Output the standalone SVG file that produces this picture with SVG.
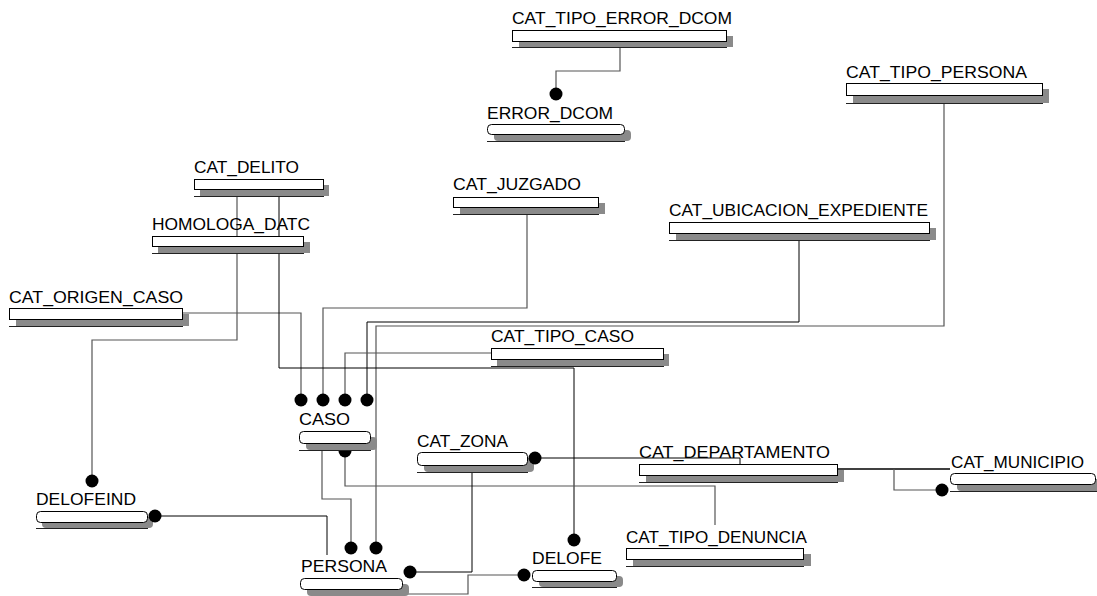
<svg xmlns="http://www.w3.org/2000/svg" width="1097" height="596" viewBox="0 0 1097 596">
<style>
text{font-family:"Liberation Sans",Arial,sans-serif;font-size:17px;fill:#000}
.box{fill:#fff;stroke:#000;stroke-width:1}
.sh{fill:#8a8a8a}
.bl{stroke:#222;stroke-width:1}
.k{fill:none;stroke:#000;stroke-width:1}
.g{fill:none;stroke:#555;stroke-width:1.2}
.dot{fill:#000}
</style>
<rect width="1097" height="596" fill="#fff"/>
<g id="connectors">
<polyline class="g" points="620,47 620,71 556,71 556,94"/>
<polyline class="g" points="944,103 944,326 376,326 376,548"/>
<polyline class="k" points="799,240 799,322 367,322 367,400"/>
<polyline class="g" points="527,214 527,308 323,308 323,400"/>
<polyline class="g" points="491,353 345,353 345,400"/>
<polyline class="g" points="182,313 301,313 301,400"/>
<polyline class="g" points="237,196 237,340 92,340 92,481"/>
<polyline class="k" points="279,196 279,368 574,368 574,540"/>
<polyline class="g" points="322,450 322,499 351,499 351,548"/>
<polyline class="g" points="715,525 715,486 345,486 345,451"/>
<polyline class="k" points="155,516 327,516 327,555"/>
<polyline class="k" points="472,472 472,572 410,572"/>
<polyline class="g" points="403,594 468,594 468,575 524,575"/>
<polyline class="k" points="534,458 740,458 740,464"/>
<polyline class="k" points="837,469 950,469" style="stroke-width:1.5"/>
<polyline class="g" points="894,469 894,490 942,490"/>
<circle class="dot" cx="345" cy="451" r="6.5"/>
</g>
<g id="CAT_TIPO_ERROR_DCOM"><rect class="sh" x="519" y="36" width="214" height="11"/><rect class="box" x="512.5" y="30.5" width="214" height="11"/><line class="bl" x1="512" y1="47.5" x2="727" y2="47.5"/><text x="512" y="24" textLength="220" lengthAdjust="spacingAndGlyphs">CAT_TIPO_ERROR_DCOM</text></g>
<g id="ERROR_DCOM"><rect class="sh" x="494" y="130" width="137" height="11" rx="4"/><rect class="box" x="487.5" y="124.5" width="137" height="10" rx="4"/><line class="bl" x1="487" y1="141.5" x2="625" y2="141.5"/><text x="487" y="119" textLength="126" lengthAdjust="spacingAndGlyphs">ERROR_DCOM</text></g>
<g id="CAT_TIPO_PERSONA"><rect class="sh" x="853" y="89" width="196" height="14"/><rect class="box" x="846.5" y="83.5" width="196" height="12"/><line class="bl" x1="846" y1="103.5" x2="1043" y2="103.5"/><text x="846" y="78" textLength="181" lengthAdjust="spacingAndGlyphs">CAT_TIPO_PERSONA</text></g>
<g id="CAT_DELITO"><rect class="sh" x="200" y="185" width="129" height="11"/><rect class="box" x="194.5" y="179.5" width="129" height="10"/><line class="bl" x1="194" y1="196.5" x2="324" y2="196.5"/><text x="194" y="173" textLength="105" lengthAdjust="spacingAndGlyphs">CAT_DELITO</text></g>
<g id="HOMOLOGA_DATC"><rect class="sh" x="158" y="242" width="152" height="11"/><rect class="box" x="152.5" y="236.5" width="151" height="10"/><line class="bl" x1="152" y1="253.5" x2="304" y2="253.5"/><text x="152" y="230" textLength="158" lengthAdjust="spacingAndGlyphs">HOMOLOGA_DATC</text></g>
<g id="CAT_JUZGADO"><rect class="sh" x="460" y="203" width="145" height="11"/><rect class="box" x="453.5" y="197.5" width="145" height="10"/><line class="bl" x1="453" y1="214.5" x2="599" y2="214.5"/><text x="453" y="190" textLength="128" lengthAdjust="spacingAndGlyphs">CAT_JUZGADO</text></g>
<g id="CAT_UBICACION_EXPEDIENTE"><rect class="sh" x="676" y="228" width="260" height="12"/><rect class="box" x="669.5" y="222.5" width="260" height="11"/><line class="bl" x1="669" y1="240.5" x2="930" y2="240.5"/><text x="669" y="216" textLength="259" lengthAdjust="spacingAndGlyphs">CAT_UBICACION_EXPEDIENTE</text></g>
<g id="CAT_ORIGEN_CASO"><rect class="sh" x="16" y="314" width="173" height="12"/><rect class="box" x="9.5" y="308.5" width="173" height="11"/><line class="bl" x1="9" y1="326.5" x2="183" y2="326.5"/><text x="9" y="303" textLength="174" lengthAdjust="spacingAndGlyphs">CAT_ORIGEN_CASO</text></g>
<g id="CAT_TIPO_CASO"><rect class="sh" x="497" y="354" width="172" height="12"/><rect class="box" x="491.5" y="348.5" width="172" height="11"/><line class="bl" x1="491" y1="366.5" x2="664" y2="366.5"/><text x="491" y="342" textLength="143" lengthAdjust="spacingAndGlyphs">CAT_TIPO_CASO</text></g>
<g id="CASO"><rect class="sh" x="306" y="437" width="71" height="13" rx="4"/><rect class="box" x="299.5" y="431.5" width="71" height="12" rx="4"/><line class="bl" x1="299" y1="450.5" x2="371" y2="450.5"/><text x="299" y="425" textLength="51" lengthAdjust="spacingAndGlyphs">CASO</text></g>
<g id="CAT_ZONA"><rect class="sh" x="424" y="458" width="110" height="14" rx="4"/><rect class="box" x="417.5" y="452.5" width="110" height="13" rx="4"/><line class="bl" x1="417" y1="472.5" x2="528" y2="472.5"/><text x="417" y="447" textLength="91" lengthAdjust="spacingAndGlyphs">CAT_ZONA</text></g>
<g id="CAT_DEPARTAMENTO"><rect class="sh" x="646" y="470" width="198" height="12"/><rect class="box" x="639.5" y="464.5" width="198" height="11"/><line class="bl" x1="639" y1="482.5" x2="838" y2="482.5"/><text x="639" y="458" textLength="191" lengthAdjust="spacingAndGlyphs">CAT_DEPARTAMENTO</text></g>
<g id="CAT_MUNICIPIO"><rect class="sh" x="957" y="479" width="145" height="12" rx="4"/><rect class="box" x="950.5" y="473.5" width="145" height="11" rx="4"/><line class="bl" x1="950" y1="491.5" x2="1097" y2="491.5"/><text x="951" y="468" textLength="133" lengthAdjust="spacingAndGlyphs">CAT_MUNICIPIO</text></g>
<g id="DELOFEIND"><rect class="sh" x="42" y="517" width="111" height="11" rx="4"/><rect class="box" x="36.5" y="511.5" width="111" height="11" rx="4"/><line class="bl" x1="36" y1="528.5" x2="148" y2="528.5"/><text x="36" y="505" textLength="100" lengthAdjust="spacingAndGlyphs">DELOFEIND</text></g>
<g id="CAT_TIPO_DENUNCIA"><rect class="sh" x="633" y="554" width="178" height="12"/><rect class="box" x="626.5" y="548.5" width="177" height="11"/><line class="bl" x1="626" y1="566.5" x2="804" y2="566.5"/><text x="626" y="543" textLength="181" lengthAdjust="spacingAndGlyphs">CAT_TIPO_DENUNCIA</text></g>
<g id="DELOFE"><rect class="sh" x="539" y="576" width="84" height="11" rx="4"/><rect class="box" x="532.5" y="570.5" width="84" height="11" rx="4"/><line class="bl" x1="532" y1="587.5" x2="617" y2="587.5"/><text x="532" y="564" textLength="70" lengthAdjust="spacingAndGlyphs">DELOFE</text></g>
<g id="PERSONA"><rect class="sh" x="307" y="584" width="102" height="12" rx="4"/><rect class="box" x="300.5" y="578.5" width="102" height="11" rx="4"/><text x="301" y="572" textLength="86" lengthAdjust="spacingAndGlyphs">PERSONA</text></g>
<g id="connector-ends">
<circle class="dot" cx="556" cy="94" r="6.5"/>
<circle class="dot" cx="301" cy="400" r="6.5"/>
<circle class="dot" cx="323" cy="400" r="6.5"/>
<circle class="dot" cx="345" cy="400" r="6.5"/>
<circle class="dot" cx="367" cy="400" r="6.5"/>
<circle class="dot" cx="92" cy="481" r="6.5"/>
<circle class="dot" cx="155" cy="516" r="6.5"/>
<circle class="dot" cx="351" cy="548" r="6.5"/>
<circle class="dot" cx="376" cy="548" r="6.5"/>
<circle class="dot" cx="410" cy="572" r="6.5"/>
<circle class="dot" cx="535" cy="458" r="6.5"/>
<circle class="dot" cx="574" cy="540" r="6.5"/>
<circle class="dot" cx="524" cy="575" r="6.5"/>
<circle class="dot" cx="942" cy="490" r="6.5"/>
</g>
</svg>
